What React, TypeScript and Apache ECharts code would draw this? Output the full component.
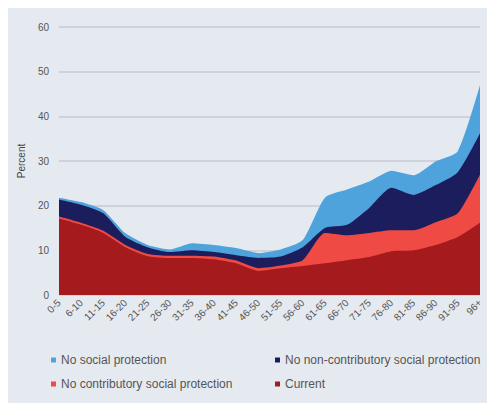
import React, { useEffect, useRef } from "react";
import * as echarts from "echarts";

const categories = ["0-5", "6-10", "11-15", "16-20", "21-25", "26-30", "31-35", "36-40", "41-45", "46-50", "51-55", "56-60", "61-65", "66-70", "71-75", "76-80", "81-85", "86-90", "91-95", "96+"];
const noSocial = [21.8, 20.8, 19.0, 13.8, 11.2, 10.2, 11.6, 11.2, 10.5, 9.4, 10.2, 12.3, 21.8, 23.6, 25.4, 27.8, 26.8, 29.9, 32.2, 47];
const noNonContrib = [21.4, 20.2, 18.3, 13.0, 10.7, 9.6, 10.0, 9.6, 8.9, 8.3, 8.6, 10.7, 15.0, 15.7, 19.5, 24.0, 22.4, 24.6, 27.5, 36.2];
const noContrib = [17.6, 16.2, 14.4, 11.2, 9.2, 8.8, 8.8, 8.6, 7.7, 6.0, 6.6, 7.8, 13.9, 13.4, 13.9, 14.5, 14.5, 16.3, 18.3, 27];
const current = [17.1, 15.7, 13.9, 10.7, 8.7, 8.3, 8.3, 8.0, 7.1, 5.4, 6.0, 6.5, 7.1, 7.8, 8.5, 9.8, 10.0, 11.2, 13.0, 16.2];
const yTicks = { min: 0, max: 60, interval: 10 };

const names = ["No social protection", "No non-contributory social protection", "No contributory social protection", "Current"];
const colors = ["#4fa3dc", "#1b1d5c", "#f04a44", "#a51a1d"];

export default function App() {
  const ref = useRef<HTMLDivElement>(null);
  useEffect(() => {
    const chart = echarts.init(ref.current!, undefined, { renderer: "svg" });
    const datasets = [noSocial, noNonContrib, noContrib, current];
    const legendPos = [
      { left: 38, top: 341 },
      { left: 262, top: 341 },
      { left: 38, top: 365 },
      { left: 262, top: 365 },
    ];
    chart.setOption({
      animation: false,
      backgroundColor: "#e5eaf1",
      color: colors,
      grid: { left: 51, right: 15, top: 19, bottom: 108 },
      legend: names.map((n, i) => ({
        data: [n],
        left: legendPos[i].left,
        top: legendPos[i].top,
        icon: "rect",
        itemWidth: 5,
        itemHeight: 5,
        itemGap: 4,
        textStyle: { fontSize: 12, color: "#555", fontFamily: "Arial" },
      })),
      xAxis: {
        type: "category",
        data: categories,
        boundaryGap: false,
        axisLine: { show: false },
        axisTick: { show: false },
        axisLabel: { rotate: 45, fontSize: 10, color: "#555", fontFamily: "Arial", margin: 6, interval: 0 },
      },
      yAxis: {
        type: "value",
        min: yTicks.min,
        max: yTicks.max,
        interval: yTicks.interval,
        name: "Percent",
        nameLocation: "middle",
        nameGap: 30,
        nameTextStyle: { fontSize: 10, color: "#444", fontFamily: "Arial" },
        axisLabel: { fontSize: 10, color: "#555", fontFamily: "Arial", margin: 10 },
        axisLine: { show: false },
        axisTick: { show: false },
        splitLine: { lineStyle: { color: "#c6cbd3", width: 1.5 } },
      },
      series: datasets.map((d, i) => ({
        name: names[i],
        type: "line",
        data: d,
        smooth: 0.2,
        symbol: "none",
        lineStyle: { width: 0 },
        itemStyle: { color: colors[i] },
        areaStyle: { color: colors[i], opacity: 1 },
        z: 2 + i,
      })),
    });
    return () => chart.dispose();
  }, []);
  return <div ref={ref} style={{ width: 487, height: 395 }} />;
}
